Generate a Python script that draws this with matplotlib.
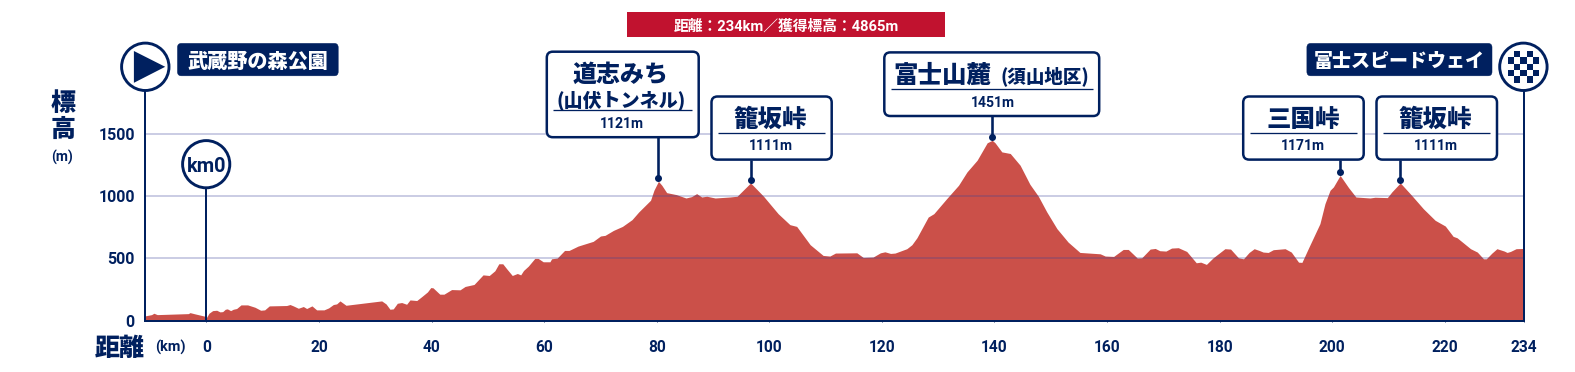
import matplotlib
matplotlib.use("Agg")
import matplotlib.pyplot as plt
from matplotlib.patches import FancyBboxPatch, Circle, Polygon, Rectangle
from matplotlib.transforms import ScaledTranslation

# ---- data ----
distance_km = [-10.87,-9.75,-9.34,-8.75,-3.22,-2.93,-2.05,-0.27,0.03,0.44,1.10,1.81,2.40,2.88,3.35,3.71,4.29,4.76,5.36,6.13,
 7.31,8.62,9.63,10.34,11.16,14.24,14.84,15.43,16.32,17.21,17.80,18.74,19.57,20.88,21.71,22.54,23.13,23.72,24.79,31.13,
 31.90,32.60,33.19,33.91,34.68,35.56,36.16,37.36,38.26,39.26,39.85,40.25,41.45,42.20,43.55,45.05,45.95,47.54,49.14,50.24,
 51.24,51.94,52.64,53.34,54.33,55.23,55.83,56.33,57.18,58.33,58.93,59.83,61.02,61.32,62.32,63.62,64.42,66.02,68.71,70.01,
 70.81,72.31,73.91,75.60,76.80,78.90,79.50,80.30,80.90,81.76,83.49,85.19,86.19,87.09,87.99,88.88,90.38,92.98,94.28,96.67,
 98.97,101.57,103.66,104.86,107.26,109.56,110.75,111.75,115.55,116.69,118.44,119.74,120.54,121.54,122.34,124.43,125.33,126.23,128.23,129.23,
 131.52,133.62,135.12,136.92,138.71,139.61,140.11,141.31,142.81,144.56,146.30,147.80,149.30,151.10,153.09,155.19,158.79,159.68,161.18,162.88,
 163.78,165.38,166.17,167.67,168.57,169.37,170.47,171.47,172.67,174.16,175.86,176.66,177.66,178.86,180.95,181.95,183.35,184.25,185.25,186.15,
 187.04,187.74,188.64,189.54,191.64,192.74,194.03,194.63,195.83,197.83,198.73,199.63,200.23,201.42,202.92,204.22,206.72,207.62,209.81,210.61,
 212.11,214.11,216.20,218.30,220.10,221.50,222.19,224.59,225.79,226.89,227.39,228.39,229.28,230.58,231.08,231.68,232.68,234.0]
elevation_m = [38,48,59,48,56,64,54,35,27,59,80,83,70,72,91,94,80,91,97,126,
 126,107,83,86,118,121,129,118,99,113,97,118,86,86,102,129,134,158,123,158,
 134,91,94,139,145,131,166,161,193,230,265,263,212,212,249,247,274,290,367,362,
 400,456,456,416,362,378,367,402,437,499,499,472,472,496,502,563,563,598,636,679,
 684,724,756,810,872,966,1046,1118,1086,1027,1011,984,995,1019,992,998,984,992,998,1105,
 998,858,770,756,609,523,518,542,544,507,510,544,552,539,542,577,609,665,831,858,
 979,1086,1193,1287,1427,1447,1427,1354,1341,1247,1094,998,872,738,630,547,536,518,515,571,
 571,502,504,574,579,561,558,582,585,555,464,469,451,504,577,574,504,496,547,577,
 563,550,547,569,577,550,469,467,585,778,939,1046,1073,1165,1067,992,984,990,987,1033,
 1105,1006,898,805,759,676,665,577,550,496,496,542,577,558,547,555,577,579]

x_ticks = [0,20,40,60,80,100,120,140,160,180,200,220,234]
y_ticks = [0,500,1000,1500]

peak_names = ["道志みち","籠坂峠","富士山麓","三国峠","籠坂峠"]
peak_km = [80.3,96.7,139.6,201.4,212.1]
peak_m = [1121,1111,1451,1171,1111]
banner_text = "距離：234km／獲得標高：4865m"
start_name = "武蔵野の森公園"
finish_name = "富士スピードウェイ"

NAVY = "#00205f"
FILL = "#cb5049"
W, H = 1575, 372
LAT = ["Roboto", "Noto Sans CJK JP"]
JP = ["Noto Sans CJK JP", "DejaVu Sans"]
px = 0.72  # points per pixel at dpi 100

fig = plt.figure(figsize=(W/100, H/100), dpi=100, facecolor="white")
L, R, B, T = 145.3, 1523.5, 320.6, 133.7
ax = fig.add_axes([L/W, 1-B/H, (R-L)/W, (B-T)/H], zorder=1)
ax.set_xlim(-10.87, 234)
ax.set_ylim(0, 1500)
ax.patch.set_alpha(0)
ax.fill_between(distance_km, elevation_m, 0, color=FILL, lw=0, zorder=2)
for v in y_ticks[1:]:
    ax.axhline(v, color="#374198", alpha=0.3, lw=1.7*px, zorder=3, clip_on=False)
ax.spines["top"].set_visible(False)
for s in ["left", "right", "bottom"]:
    ax.spines[s].set_color(NAVY)
    ax.spines[s].set_linewidth(2.0*px)
    ax.spines[s].set_zorder(5)
ax.set_xticks(x_ticks, [str(t) for t in x_ticks], family=LAT, weight="bold", fontsize=15.5*px, color=NAVY)
ax.set_yticks(y_ticks, [str(t) for t in y_ticks], family=LAT, weight="bold", fontsize=16*px, color=NAVY)
ax.tick_params(axis="x", length=1, width=0.6, color=NAVY, pad=18*px)
ax.tick_params(axis="y", length=0, pad=10.5*px)
# km0 vertical, stops under its circle
ax.axvline(0, ymin=0, ymax=0.75, color=NAVY, lw=2.0*px, zorder=6)

# peak dots
off = ax.transData + ScaledTranslation(0, 2.5/100, fig.dpi_scale_trans)
ax.plot(peak_km, peak_m, "o", transform=off, color=NAVY, ms=7*px, mew=0, clip_on=False, zorder=8)

# overlay in pixel coordinates for the decoration
pix = fig.add_axes([0, 0, 1, 1], zorder=2)
pix.set_xlim(0, W); pix.set_ylim(H, 0); pix.axis("off"); pix.patch.set_alpha(0)

def box(x0, y0, x1, y1, fc, ec, r=6, lw=2.5):
    pix.add_patch(FancyBboxPatch((x0, y0), x1-x0, y1-y0, boxstyle=f"round,pad=0,rounding_size={r}",
                                 fc=fc, ec=ec, lw=lw*px, zorder=4))
def txt(x, y, s, size, fam=JP, weight="black", color=NAVY, **kw):
    pix.text(x, y, s, fontsize=size*px, family=fam, weight=weight, color=color,
             ha=kw.pop("ha", "center"), va="center_baseline", zorder=6, **kw)
def hline(x0, x1, y, lw=1.3):
    pix.plot([x0, x1], [y, y], color=NAVY, lw=lw*px, zorder=5, solid_capstyle="butt")
def stem(i, y0):
    x = ax.transData.transform((peak_km[i], 0))[0]
    y1 = H - ax.transData.transform((0, peak_m[i]))[1] - 2.5
    pix.plot([x, x], [y0, y1], color=NAVY, lw=2.6*px, zorder=3, solid_capstyle="butt")

# banner
pix.add_patch(Rectangle((627, 11.5), 318.2, 25.2, fc="#c1122f", ec="none", zorder=4))
txt(786, 24.6, banner_text, 14.8, fam=LAT, weight="bold", color="white")

# start marker
pix.plot([145.3, 145.3], [88, 320], color=NAVY, lw=2.0*px, zorder=3)
pix.add_patch(Circle((145.3, 66.8), 23.7, fc="white", ec=NAVY, lw=2.9*px, zorder=4))
pix.add_patch(Polygon([(133.9, 51), (165.2, 66.8), (133.9, 82.8)], fc=NAVY, ec="none", zorder=5))
box(177.5, 43.4, 338.2, 75.8, NAVY, NAVY, r=4, lw=0.5)
txt(257.9, 59.9, start_name, 20.2, color="white")

# finish marker
pix.plot([1523.5, 1523.5], [88, 320], color=NAVY, lw=2.0*px, zorder=3)
pix.add_patch(Circle((1523.4, 66.8), 23.7, fc="white", ec=NAVY, lw=2.9*px, zorder=4))
cell = 6.35
for r_ in range(5):
    for c_ in range(5):
        if (r_ + c_) % 2 == 1:
            pix.add_patch(Rectangle((1523.4-2.5*cell+c_*cell, 66.8-2.5*cell+r_*cell), cell, cell,
                                    fc=NAVY, ec="none", zorder=5))
box(1306.9, 43.4, 1492, 75.8, NAVY, NAVY, r=4, lw=0.5)
txt(1399.6, 59.9, finish_name, 19, color="white")

# km0 marker
pix.add_patch(Circle((206.2, 164.2), 23.6, fc="white", ec=NAVY, lw=2.9*px, zorder=4))
txt(206.8, 164.7, "km0", 20, fam=LAT, weight="bold")

# callouts
M = dict(fam=LAT, weight="bold")
box(546.8, 51.7, 698.7, 137.2, "white", NAVY); stem(0, 137.2)
txt(621.1, 71.6, peak_names[0], 24)
txt(621.4, 97.7, "(山伏トンネル)", 19)
hline(553.1, 691.7, 110.4)
txt(622.2, 123, f"{peak_m[0]}m", 14, **M)

box(711.5, 96.5, 831.7, 159.6, "white", NAVY); stem(1, 159.6)
txt(770.4, 117.2, peak_names[1], 24.5)
hline(718.2, 825.3, 132.6)
txt(771.1, 144.3, f"{peak_m[1]}m", 14, **M)

box(884.3, 52.4, 1099.2, 116, "white", NAVY); stem(2, 116)
txt(942.4, 72.6, peak_names[2], 24.5)
txt(1045.3, 74.2, "(須山地区)", 18.5)
hline(890.6, 1092.9, 89.2)
txt(992.8, 101.2, f"{peak_m[2]}m", 14, **M)

box(1243.2, 96.5, 1363.7, 159.6, "white", NAVY); stem(3, 159.6)
txt(1302.8, 117.2, peak_names[3], 24.5)
hline(1249.9, 1357.1, 132.8)
txt(1302.8, 145, f"{peak_m[3]}m", 14, **M)

box(1376.5, 96.5, 1497, 159.6, "white", NAVY); stem(4, 159.6)
txt(1435, 117.2, peak_names[4], 24.5)
hline(1383.2, 1490.3, 132.6)
txt(1435.7, 144.3, f"{peak_m[4]}m", 14, **M)

# axis titles
txt(62.6, 100.2, "標", 25)
txt(62.6, 126.2, "高", 25)
txt(62.3, 156, "(m)", 14, **M)
txt(120, 346, "距離", 25)
txt(170.8, 346, "(km)", 14.5, **M)

fig.savefig("out.png", dpi=100)
